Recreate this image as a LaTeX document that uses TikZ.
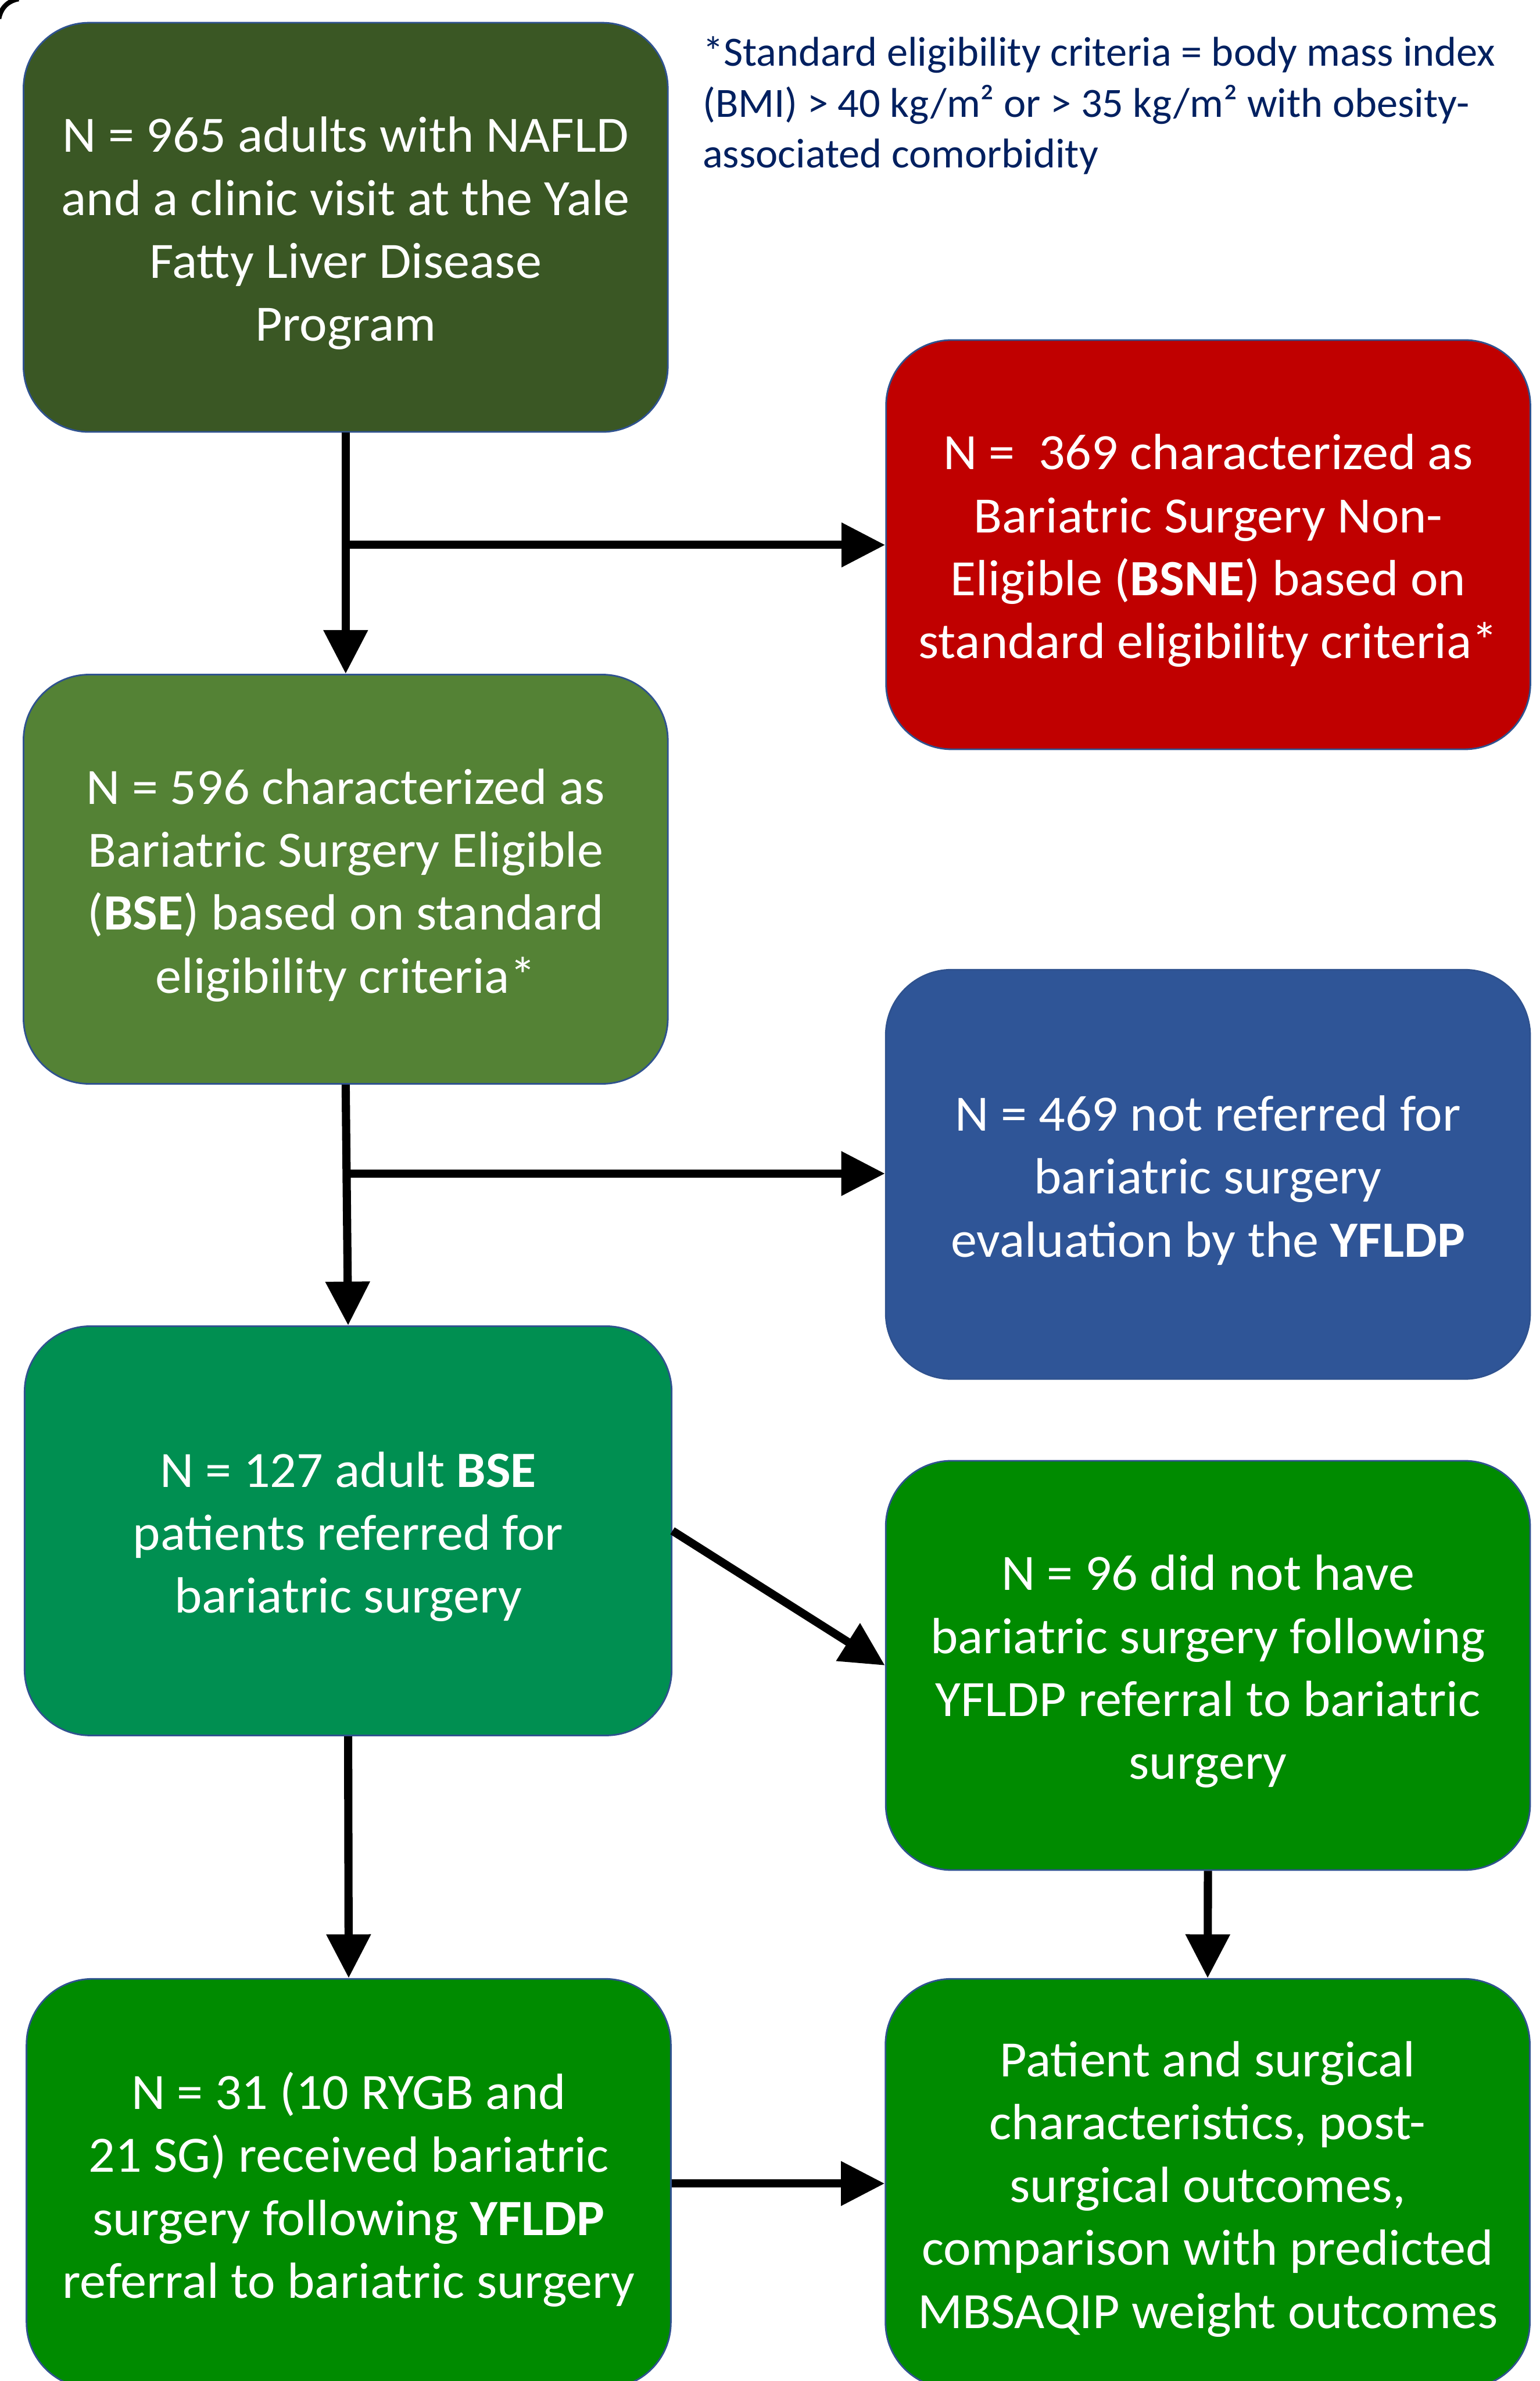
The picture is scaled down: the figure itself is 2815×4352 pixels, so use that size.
\documentclass[tikz,border=0pt]{standalone}
\usepackage{fontspec}
\setmainfont{Carlito}[FakeStretch=1.03]
\newfontfamily\notefont{Carlito}[FakeStretch=1.013]
\usetikzlibrary{arrows.meta,calc}
\definecolor{cDark}{HTML}{3A5724}
\definecolor{cRed}{HTML}{C00000}
\definecolor{cOlive}{HTML}{548235}
\definecolor{cBlue}{HTML}{2F5597}
\definecolor{cTeal}{HTML}{008F51}
\definecolor{cGreen}{HTML}{008B00}
\definecolor{cEdge}{HTML}{2F528F}
\definecolor{cNavy}{HTML}{002060}
\tikzset{
  box/.style={rectangle, rounded corners=30pt, draw=cEdge, line width=0.75pt,
    minimum width=294.5pt, minimum height=187pt, inner sep=0pt},
  boxtext/.style={inner sep=0pt, text=white, align=center,
    font=\fontsize{23.25pt}{28.75pt}\selectfont},
  flow/.style={line width=3.75pt, -{Triangle[length=20pt,width=19.5pt]}}
}
\begin{document}
\begin{tikzpicture}[x=0.25pt,y=-0.25pt]
\useasboundingbox (0,0) rectangle (2815,4352);
\clip (0,0) rectangle (2815,4352);
\fill[white] (0,0) rectangle (2815,4352);
% corner mark
\draw[line width=2.2pt] (-2,34) .. controls (2,14) and (14,2) .. (34,-2);

\node[box, fill=cDark] (n1) at (632,415.5) {};
\node[box, fill=cRed] (red) at (2209,995.5) {};
\node[box, fill=cOlive] (bse) at (632,1607) {};
\node[box, fill=cBlue] (blue) at (2208.5,2146.5) {};
\node[box, fill=cTeal, minimum width=295.75pt] (ref) at (636.5,2798) {};
\node[box, fill=cGreen] (none) at (2208.5,3044) {};
\node[box, fill=cGreen] (surg) at (637.5,3991) {};
\node[box, fill=cGreen] (out) at (2208,3991) {};

\node[boxtext] (n1t) at ($(n1.center)+(0,11)$)
  {N = 965 adults with NAFLD\\and a clinic visit at the Yale\\Fatty Liver Disease\\Program};
\node[boxtext] (redt) at ($(red.center)+(0,11)$)
  {N =\ \ 369 characterized as\\Bariatric Surgery Non-\\Eligible (\textbf{BSNE}) based on\\standard eligibility criteria*};
\node[boxtext] (bset) at ($(bse.center)+(0,11)$)
  {N = 596 characterized as\\Bariatric Surgery Eligible\\(\textbf{BSE}) based on standard\\eligibility criteria*};
\node[boxtext] (bluet) at ($(blue.center)+(0,11)$)
  {N = 469 not referred for\\bariatric surgery\\evaluation by the \textbf{YFLDP}};
\node[boxtext] (reft) at ($(ref.center)+(0,11)$)
  {N = 127 adult \textbf{BSE}\\patients referred for\\bariatric surgery};
\node[boxtext] (nonet) at ($(none.center)+(0,11)$)
  {N = 96 did not have\\bariatric surgery following\\YFLDP referral to bariatric\\surgery};
\node[boxtext] (surgt) at ($(surg.center)+(0,11)$)
  {N = 31 (10 RYGB and\\21 SG) received bariatric\\surgery following \textbf{YFLDP}\\referral to bariatric surgery};
\node[boxtext] (outt) at ($(out.center)+(0,10)$)
  {Patient and surgical\\characteristics, post-\\surgical outcomes,\\comparison with predicted\\MBSAQIP weight outcomes};

\node[anchor=base west, inner sep=0pt, align=left, text=cNavy,
  font=\notefont\fontsize{19pt}{23.25pt}\selectfont] (note) at (1284,307)
  {*Standard eligibility criteria = body mass index\\(BMI) > 40 kg/m² or > 35 kg/m² with obesity-\\associated comorbidity};

\coordinate (b1) at (632,996);
\coordinate (b2) at (634,2145);
\draw[flow] (n1.south) -- (bse.north);
\draw[flow] (b1) -- (b1 -| red.west);
\draw[flow] (bse.south) -- (ref.north);
\draw[flow] (b2) -- (b2 -| blue.west);
\draw[flow] (ref.east) -- (none.west);
\draw[flow] (ref.south) -- (surg.north);
\draw[flow] (none.south) -- (out.north);
\draw[flow] (surg.east) -- (out.west);
\end{tikzpicture}
\end{document}
